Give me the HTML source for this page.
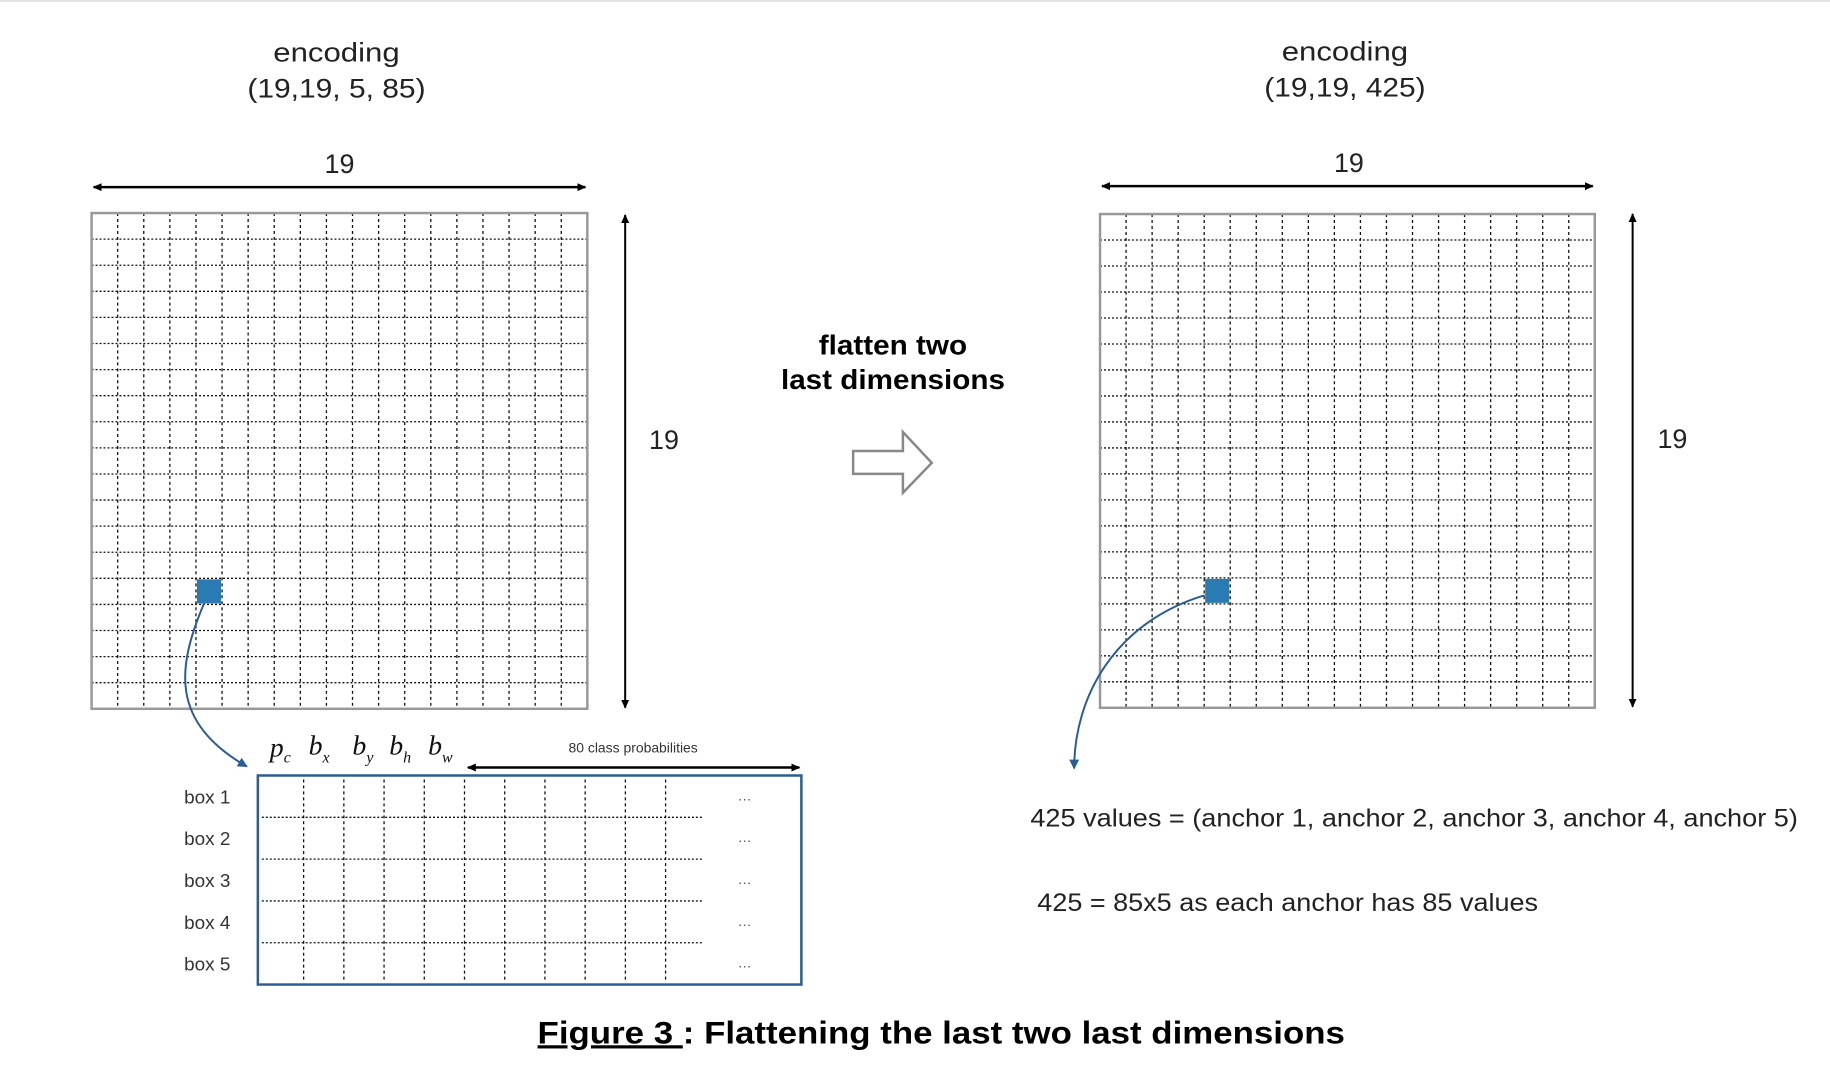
<!DOCTYPE html>
<html><head><meta charset="utf-8"><style>
html,body{margin:0;padding:0;background:#fff;}
svg{display:block;}
text{font-family:"Liberation Sans",sans-serif;}
.serif text{font-family:"Liberation Serif",serif;}
</style></head><body>
<svg id="fig" width="1830" height="1068" viewBox="0 0 1830 1068" xmlns="http://www.w3.org/2000/svg">
<defs>
<marker id="ah" markerWidth="10" markerHeight="10" refX="8" refY="5" orient="auto-start-reverse" markerUnits="userSpaceOnUse"><path d="M0,1 L9,5 L0,9 Z" fill="#000"/></marker>
<marker id="bh" markerWidth="12" markerHeight="12" refX="9" refY="6" orient="auto" markerUnits="userSpaceOnUse"><path d="M0,1 L10,6 L0,11 Z" fill="#2a5c96"/></marker>
</defs>
<line x1="0" y1="1" x2="1830" y2="1" stroke="#e4e4e4" stroke-width="2"/>
<g transform="scale(0.9955)">
<g fill="#222" font-size="27" text-anchor="middle">
<text x="338" y="62" textLength="127" lengthAdjust="spacingAndGlyphs">encoding</text>
<text x="338" y="98" textLength="179" lengthAdjust="spacingAndGlyphs">(19,19, 5, 85)</text>
</g>
<g fill="#222" font-size="27" text-anchor="middle">
<text x="1351" y="61" textLength="127" lengthAdjust="spacingAndGlyphs">encoding</text>
<text x="1351" y="97" textLength="162" lengthAdjust="spacingAndGlyphs">(19,19, 425)</text>
</g>

<text x="341" y="174" font-size="27" fill="#222" text-anchor="middle">19</text>
<text x="1355" y="173" font-size="27" fill="#222" text-anchor="middle">19</text>
<text x="667" y="451" font-size="27" fill="#222" text-anchor="middle">19</text>
<text x="1680" y="450" font-size="27" fill="#222" text-anchor="middle">19</text>

<line x1="94" y1="188" x2="588" y2="188" stroke="#000" stroke-width="2.5" marker-start="url(#ah)" marker-end="url(#ah)"/>
<line x1="1107" y1="187" x2="1600" y2="187" stroke="#000" stroke-width="2.5" marker-start="url(#ah)" marker-end="url(#ah)"/>
<line x1="628" y1="216" x2="628" y2="711" stroke="#000" stroke-width="2" marker-start="url(#ah)" marker-end="url(#ah)"/>
<line x1="1640" y1="215" x2="1640" y2="710" stroke="#000" stroke-width="2" marker-start="url(#ah)" marker-end="url(#ah)"/>

<g id="gridL"></g>
<g id="gridR"></g>

<g font-weight="bold" font-size="28" fill="#000" text-anchor="middle">
<text x="897" y="356" textLength="149" lengthAdjust="spacingAndGlyphs">flatten two</text>
<text x="897" y="391" textLength="225" lengthAdjust="spacingAndGlyphs">last dimensions</text>
</g>
<path d="M857,453 L907,453 L907,434 L936,465 L907,495 L907,476 L857,476 Z" fill="#fff" stroke="#888" stroke-width="2.5"/>

<path d="M205,606 C178,670 170,725 248,770" fill="none" stroke="#2a5c96" stroke-width="2" marker-end="url(#bh)"/>
<path d="M1210,598 C1120,625 1079,700 1079,772" fill="none" stroke="#2a5c96" stroke-width="2" marker-end="url(#bh)"/>

<g class="serif" font-style="italic" font-size="28" fill="#111">
<text x="271" y="760">p<tspan font-size="16" dy="6">c</tspan></text>
<text x="310" y="758">b<tspan font-size="16" dy="8">x</tspan></text>
<text x="354" y="758">b<tspan font-size="16" dy="8">y</tspan></text>
<text x="391" y="758">b<tspan font-size="16" dy="8">h</tspan></text>
<text x="430" y="758">b<tspan font-size="16" dy="8">w</tspan></text>
</g>
<text x="636" y="756" font-size="14" fill="#333" text-anchor="middle">80 class probabilities</text>
<line x1="470" y1="771" x2="803" y2="771" stroke="#000" stroke-width="2.5" marker-start="url(#ah)" marker-end="url(#ah)"/>

<g id="table"></g>

<text x="1035" y="830" font-size="25" fill="#222" textLength="771" lengthAdjust="spacingAndGlyphs">425 values = (anchor 1, anchor 2, anchor 3, anchor 4, anchor 5)</text>
<text x="1042" y="915" font-size="25" fill="#222" textLength="503" lengthAdjust="spacingAndGlyphs">425 = 85x5 as each anchor has 85 values</text>

<text x="540" y="1048" font-size="32" font-weight="bold" fill="#000" textLength="811" lengthAdjust="spacingAndGlyphs"><tspan text-decoration="underline">Figure 3 </tspan>: Flattening the last two last dimensions</text>
</g>
</svg>
<script>
const NS="http://www.w3.org/2000/svg";
const gridCells=[19,19];
const highlightCell=[4,14];
const boxLabels=["box 1","box 2","box 3","box 4","box 5"];
const tableCols=10;
function mk(tag,attrs,parent){const e=document.createElementNS(NS,tag);for(const k in attrs)e.setAttribute(k,attrs[k]);parent.appendChild(e);return e;}
function drawGrid(g,x0,y0,w,h){
  const n=gridCells[0],m=gridCells[1],cw=w/n,ch=h/m;
  for(let i=1;i<n;i++){const l=mk('line',{x1:x0+i*cw,y1:y0,x2:x0+i*cw,y2:y0+h,stroke:'#111','stroke-width':1.3,'stroke-dasharray':'3,3'},g);
    
    }
  for(let j=1;j<m;j++){const l=mk('line',{x1:x0,y1:y0+j*ch,x2:x0+w,y2:y0+j*ch,stroke:'#111','stroke-width':1.3,'stroke-dasharray':'2,2'},g);
    
    }
  const b=mk('rect',{x:x0,y:y0,width:w,height:h,fill:'none',stroke:'#999','stroke-width':2.5},g);
  
  
  const s=mk('rect',{x:x0+highlightCell[0]*cw+1,y:y0+highlightCell[1]*ch+1,width:cw-2,height:ch-2,fill:'#2a7ab3'},g);
  
  
}
drawGrid(document.getElementById('gridL'),92,214,498,498);
drawGrid(document.getElementById('gridR'),1105,215,497,496);
const t=document.getElementById('table');
const tx=259,ty=779,tw=546,th=210,rh=th/boxLabels.length;
for(let c=0;c<tableCols;c++){const x=305+c*40.4;
  const l=mk('line',{x1:x,y1:ty+4,x2:x,y2:ty+th-4,stroke:'#111','stroke-width':1.3,'stroke-dasharray':'3,3'},t);
  
  }
for(let r=0;r<boxLabels.length;r++){
  const cy=ty+r*rh+rh/2;
  if(r>0){const l=mk('line',{x1:263,y1:ty+r*rh,x2:706,y2:ty+r*rh,stroke:'#111','stroke-width':1.3,'stroke-dasharray':'2,2'},t);
    
    }
  const lab=mk('text',{x:185,y:cy+7,'font-size':19,fill:'#333'},t);lab.textContent=boxLabels[r];
  
  
  const d=mk('text',{x:748,y:cy+4,'font-size':14,fill:'#555','text-anchor':'middle'},t);d.textContent='…';
  
  
}
const border=mk('rect',{x:tx,y:ty,width:tw,height:th,fill:'none',stroke:'#2a5c96','stroke-width':2.5},t);


</script>
</body></html>
